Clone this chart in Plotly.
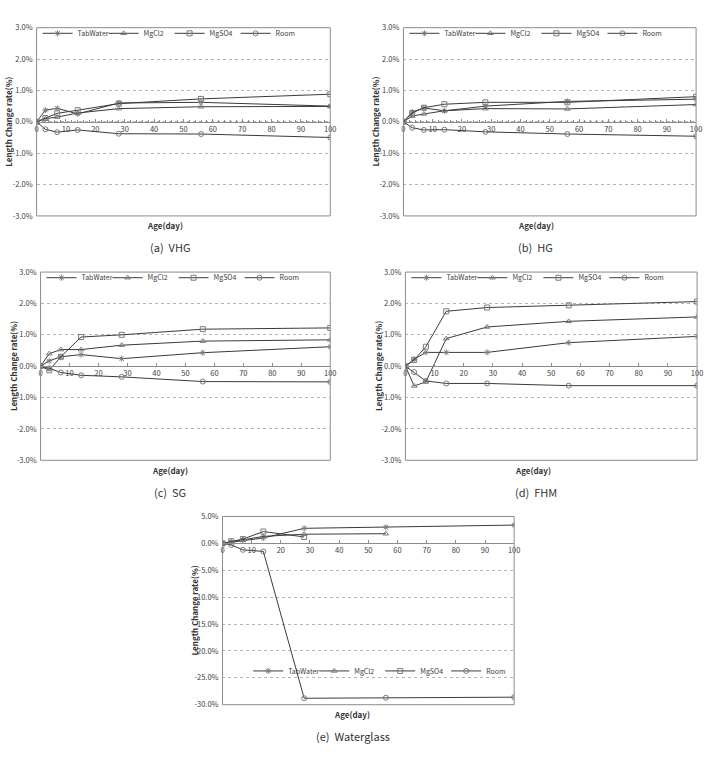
import plotly.graph_objects as go

W, H = 711, 758

days = [0, 3, 7, 14, 28, 56, 100]
series_names = ["TabWater", "MgCl2", "MgSO4", "Room"]
symbols = ["asterisk-open", "triangle-up-open", "square-open", "circle-open"]

# (a) VHG
vhg_tabwater = [0, 0.37, 0.43, 0.25, 0.60, 0.62, 0.50]
vhg_mgcl2 = [0, 0.10, 0.15, 0.28, 0.42, 0.48, 0.49]
vhg_mgso4 = [0, 0.12, 0.27, 0.37, 0.58, 0.73, 0.88]
vhg_room = [0, -0.24, -0.33, -0.26, -0.38, -0.39, -0.50]

# (b) HG
hg_tabwater = [0, 0.31, 0.44, 0.35, 0.50, 0.65, 0.72]
hg_mgcl2 = [0, 0.18, 0.25, 0.35, 0.42, 0.41, 0.55]
hg_mgso4 = [0, 0.28, 0.45, 0.56, 0.62, 0.62, 0.80]
hg_room = [0, -0.19, -0.26, -0.25, -0.32, -0.39, -0.46]

# (c) SG
sg_tabwater = [0, 0.17, 0.30, 0.37, 0.24, 0.43, 0.62]
sg_mgcl2 = [0, 0.40, 0.53, 0.53, 0.67, 0.80, 0.84]
sg_mgso4 = [0, -0.13, 0.30, 0.93, 1.00, 1.18, 1.22]
sg_room = [0, -0.07, -0.20, -0.29, -0.34, -0.49, -0.50]

# (d) FHM
fhm_tabwater = [0, 0.22, 0.44, 0.44, 0.44, 0.75, 0.95]
fhm_mgcl2 = [0, -0.63, -0.50, 0.88, 1.25, 1.43, 1.57]
fhm_mgso4 = [0, 0.20, 0.62, 1.75, 1.87, 1.94, 2.06]
fhm_room = [0, -0.19, -0.47, -0.55, -0.55, -0.62, -0.62]

# (e) Waterglass
wg_tabwater = [0, 0.2, 0.6, 1.0, 2.8, 3.0, 3.4]
wg_mgcl2 = [0, 0.3, 0.7, 1.3, 1.7, 1.8, None]
wg_mgso4 = [0, 0.4, 0.8, 2.2, 1.2, None, None]
wg_room = [0, -0.3, -1.2, -1.5, -28.8, -28.7, -28.6]

captions = ["(a)  VHG", "(b)  HG", "(c)  SG", "(d)  FHM", "(e)  Waterglass"]
y_ticks_small = [-3, -2, -1, 0, 1, 2, 3]
y_ticks_wg = [5, 0, -5, -10, -15, -20, -25, -30]

panels = [
    dict(data=[vhg_tabwater, vhg_mgcl2, vhg_mgso4, vhg_room], px=(35, 332), py=(22, 213),
         yr=(-3, 3), yt=y_ticks_small, cap=(170, 245), age=(165, 223), leg=(36, 13, "left"), minor=True),
    dict(data=[hg_tabwater, hg_mgcl2, hg_mgso4, hg_room], px=(406, 702), py=(22, 213),
         yr=(-3, 3), yt=y_ticks_small, cap=(540, 245), age=(540, 223), leg=(407, 13, "left"), minor=True),
    dict(data=[sg_tabwater, sg_mgcl2, sg_mgso4, sg_room], px=(39, 332), py=(270, 461),
         yr=(-3, 3), yt=y_ticks_small, cap=(170, 493), age=(170, 471), leg=(40, 261, "left"), minor=False),
    dict(data=[fhm_tabwater, fhm_mgcl2, fhm_mgso4, fhm_room], px=(408, 703), py=(270, 461),
         yr=(-3, 3), yt=y_ticks_small, cap=(540, 493), age=(537, 471), leg=(409, 261, "left"), minor=False),
    dict(data=[wg_tabwater, wg_mgcl2, wg_mgso4, wg_room], px=(223, 518), py=(518, 709),
         yr=(-30, 5), yt=y_ticks_wg, cap=(355, 741), age=(354, 719), leg=(516, 660, "right"), minor=False),
]

FONT = "Noto Sans CJK KR, Noto Sans, sans-serif"
LINE_C = "#3a3a3a"
MARK_C = "#7a7a7a"
AX_C = "#8c8c8c"
TXT_C = "#404040"

fig = go.Figure()
layout = dict(width=W, height=H, margin=dict(l=0, r=0, t=0, b=0),
              paper_bgcolor="white", plot_bgcolor="white", showlegend=True,
              font=dict(family=FONT, size=7, color=TXT_C))
annotations = []
shapes = []

for i, p in enumerate(panels):
    k = i + 1
    xa = "x" if k == 1 else f"x{k}"
    ya = "y" if k == 1 else f"y{k}"
    lg = "legend" if k == 1 else f"legend{k}"
    for j, name in enumerate(series_names):
        fig.add_trace(go.Scatter(
            x=days, y=p["data"][j], name=name, mode="lines+markers",
            xaxis=xa, yaxis=ya, legend=lg, connectgaps=False,
            line=dict(color=LINE_C, width=1),
            marker=dict(symbol=symbols[j], size=5, color=MARK_C,
                        line=dict(width=1, color=MARK_C)),
        ))
    x0, x1 = p["px"]
    y0, y1 = p["py"]
    ylo, yhi = p["yr"]
    dom_x = [x0 / W, x1 / W]
    dom_y = [1 - y1 / H, 1 - y0 / H]
    zero_px = y0 + (yhi - 0) / (yhi - ylo) * (y1 - y0)
    xaxis = dict(domain=dom_x, range=[0, 100], anchor="free", position=1 - zero_px / H,
                 tick0=0, dtick=10, showline=True, linecolor=AX_C, linewidth=1,
                 ticks="inside", ticklen=3, tickcolor=AX_C, showgrid=False, zeroline=False,
                 tickfont=dict(size=7.5, color=TXT_C, family=FONT), fixedrange=True)
    if p["minor"]:
        xaxis["minor"] = dict(dtick=2, ticks="inside", ticklen=2, tickcolor=AX_C)
    yaxis = dict(domain=dom_y, range=[ylo, yhi], anchor="free", position=x0 / W,
                 tickvals=p["yt"], ticktext=[f"{v:.1f}%" for v in p["yt"]],
                 showgrid=True, gridcolor="#b4b4b4", griddash="dot", gridwidth=1,
                 zeroline=False, showline=False, ticks="", ticklabelstandoff=4,
                 tickfont=dict(size=7.5, color=TXT_C, family=FONT), fixedrange=True)
    layout["xaxis" if k == 1 else f"xaxis{k}"] = xaxis
    layout["yaxis" if k == 1 else f"yaxis{k}"] = yaxis

    lx, ly, lanchor = p["leg"]
    layout[lg] = dict(orientation="h", x=lx / W, y=1 - ly / H, xanchor=lanchor, yanchor="top",
                      bgcolor="rgba(0,0,0,0)", font=dict(size=7, color=TXT_C, family=FONT),
                      itemwidth=30, tracegroupgap=0, entrywidth=21, entrywidthmode="pixels")

    shapes.append(dict(type="rect", xref=f"{xa} domain", yref=f"{ya} domain",
                       x0=0, x1=1, y0=0, y1=1, line=dict(color=AX_C, width=1),
                       fillcolor="rgba(0,0,0,0)", layer="above"))
    cx, cy = p["cap"]
    annotations.append(dict(text=captions[i], xref="paper", yref="paper", x=cx / W, y=1 - cy / H,
                            showarrow=False, xanchor="center", yanchor="middle",
                            font=dict(size=11, color="#333333", family=FONT)))
    ax_, ay_ = p["age"]
    annotations.append(dict(text="<b>Age(day)</b>", xref="paper", yref="paper", x=ax_ / W,
                            y=1 - ay_ / H, showarrow=False, xanchor="center", yanchor="middle",
                            font=dict(size=8, color="#333333", family=FONT)))
    annotations.append(dict(text="<b>Length Change rate(%)</b>", xref="paper", yref="paper",
                            x=(x0 - 28) / W, y=1 - ((y0 + y1) / 2) / H, showarrow=False,
                            textangle=-90, xanchor="center", yanchor="middle",
                            font=dict(size=8, color="#333333", family=FONT)))

layout["annotations"] = annotations
layout["shapes"] = shapes
fig.update_layout(**layout)
fig.write_html("out.html")
